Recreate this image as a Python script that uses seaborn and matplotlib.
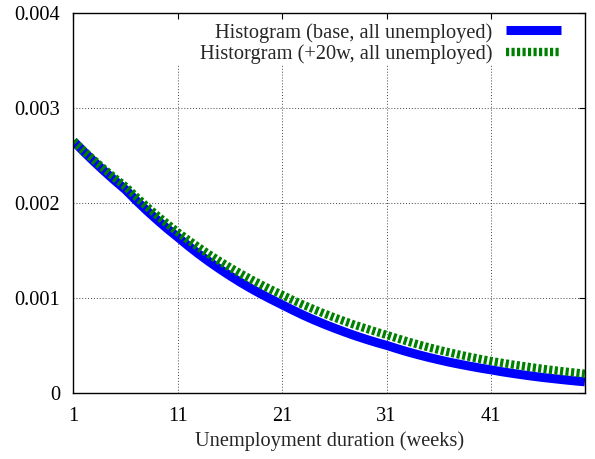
import numpy as np
import pandas as pd
import matplotlib
matplotlib.use("Agg")
import matplotlib.pyplot as plt
import seaborn as sns

weeks = list(range(1, 51))
base = [2.650, 2.538, 2.431, 2.329, 2.231, 2.137, 2.026, 1.921, 1.822, 1.727,
        1.638, 1.547, 1.461, 1.380, 1.304, 1.232, 1.163, 1.099, 1.038, 0.981,
        0.926, 0.871, 0.818, 0.769, 0.723, 0.680, 0.639, 0.600, 0.564, 0.530,
        0.499, 0.464, 0.431, 0.401, 0.373, 0.347, 0.322, 0.300, 0.279, 0.259,
        0.241, 0.222, 0.205, 0.189, 0.174, 0.160, 0.148, 0.136, 0.125, 0.115]
plus20 = [2.650, 2.546, 2.446, 2.350, 2.258, 2.170, 2.064, 1.963, 1.868, 1.777,
          1.690, 1.608, 1.531, 1.457, 1.386, 1.319, 1.256, 1.195, 1.137, 1.082,
          1.030, 0.977, 0.927, 0.880, 0.835, 0.792, 0.752, 0.713, 0.677, 0.642,
          0.609, 0.574, 0.540, 0.509, 0.479, 0.451, 0.425, 0.400, 0.377, 0.355,
          0.334, 0.316, 0.298, 0.282, 0.266, 0.251, 0.237, 0.224, 0.212, 0.200]
base = [v * 1e-3 for v in base]
plus20 = [v * 1e-3 for v in plus20]

label_base = "Histogram (base, all unemployed)"
label_plus = "Historgram (+20w, all unemployed)"
xticks = [1, 11, 21, 31, 41]
yticks = [0, 0.001, 0.002, 0.003, 0.004]
ytick_labels = ["0", "0.001", "0.002", "0.003", "0.004"]
xlabel = "Unemployment duration (weeks)"

FS = 14.7
sns.set_style("white")
plt.rcParams['font.family'] = ['Liberation Serif', 'DejaVu Serif']
plt.rcParams['font.size'] = FS

df = pd.DataFrame({
    "week": weeks * 2,
    "value": base + plus20,
    "series": [label_base] * len(weeks) + [label_plus] * len(weeks),
})

fig = plt.figure(figsize=(5.95, 4.59), dpi=100)
ax = fig.add_axes([0.1235, 0.1444, 0.983 - 0.1235, 0.9717 - 0.1444])

# grid (stops below the key, as in the reference)
for x in xticks[1:]:
    ax.axvline(x, ymin=0, ymax=0.865, color='#444444', lw=0.7,
               linestyle=(0, (1, 2)), zorder=0)
for y in yticks[1:-1]:
    ax.axhline(y, color='#444444', lw=0.7, linestyle=(0, (1, 2)), zorder=0)

sub_b = df[df.series == label_base]
sub_p = df[df.series == label_plus]
sns.lineplot(data=sub_b, x="week", y="value", ax=ax, color='#0000ff',
             lw=6.5, label=label_base, solid_capstyle='butt')
sns.lineplot(data=sub_p, x="week", y="value", ax=ax, color='#008000',
             lw=6.0, label=label_plus, dashes=False)
ax.lines[-1].set_linestyle((0, (0.38, 0.28)))
ax.lines[-1].set_dash_capstyle('butt')

ax.set_xlim(1, 50)
ax.set_ylim(0, 0.004)
ax.set_xticks(xticks)
ax.set_xticklabels([str(t) for t in xticks])
ax.set_yticks(yticks)
ax.set_yticklabels(ytick_labels)
ax.tick_params(direction='in', length=4, width=0.8, top=True, right=True,
               labelsize=FS, colors='black')
ax.tick_params(axis='y', pad=9.5)
ax.tick_params(axis='x', pad=10)
ax.set_xlabel(xlabel, fontsize=FS, labelpad=4)
ax.set_ylabel("")
for s in ax.spines.values():
    s.set_color('black')
    s.set_linewidth(1.0)

leg = ax.legend(loc='upper right', frameon=False, markerfirst=False,
                fontsize=FS, handlelength=2.7, handletextpad=0.64,
                labelspacing=0.08, borderaxespad=0, borderpad=0,
                bbox_to_anchor=(0.953, 0.974))
for t in leg.get_texts():
    t.set_ha('right')
for h in leg.get_lines():
    h.set_solid_capstyle('butt')

fig.savefig("out.png", dpi=100)
